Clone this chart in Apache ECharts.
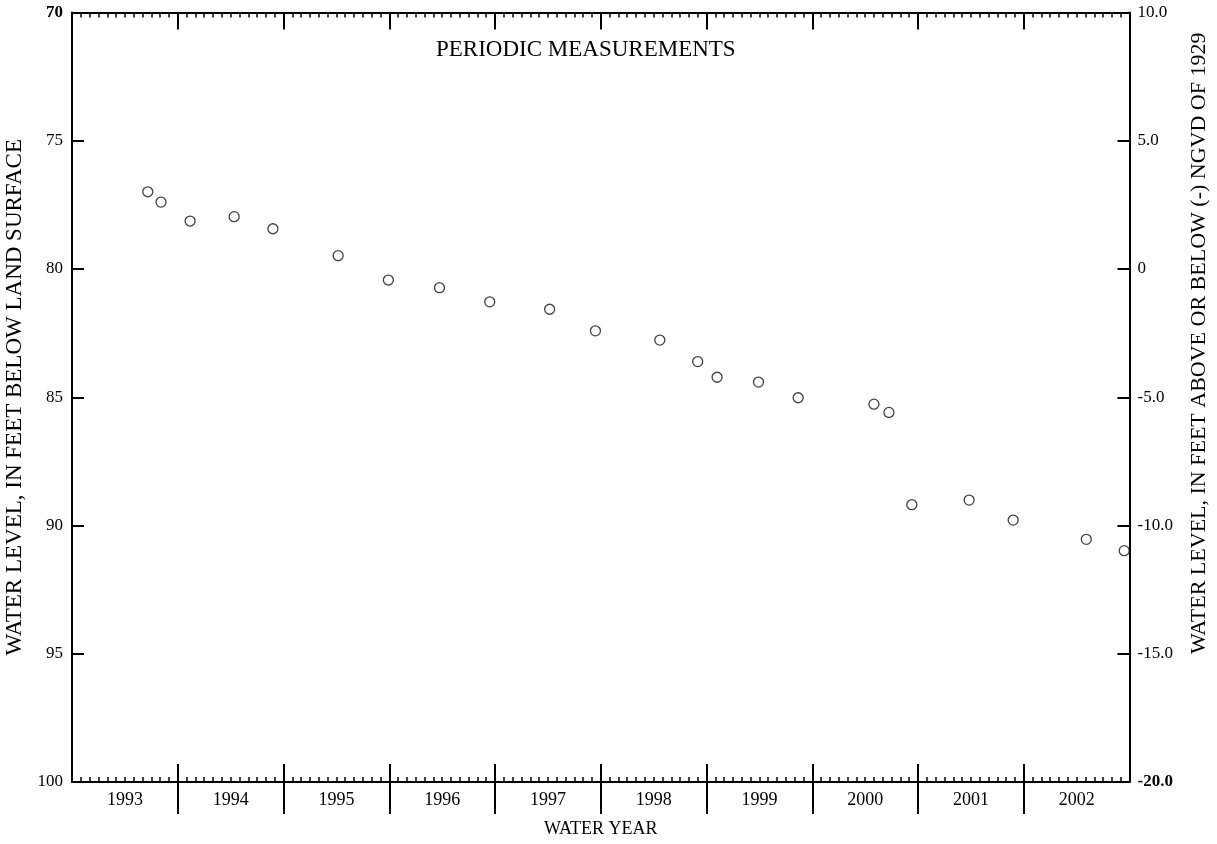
<!DOCTYPE html>
<html>
<head>
<meta charset="utf-8">
<script src="https://cdn.jsdelivr.net/npm/echarts@6/dist/echarts.min.js"></script>
<style>
  html, body { margin: 0; padding: 0; background: #fff; }
  #chart { width: 1217px; height: 844px; }
</style>
</head>
<body>
<div id="chart"></div>
<script>
// months since start of water year 1993 (Oct 1992)
const measMonth = [8.6, 10.1, 13.4, 18.4, 22.8, 30.2, 35.9, 41.7, 47.4, 54.2, 59.4, 66.7,
    71.0, 73.2, 77.9, 82.4, 91.0, 92.7, 95.3, 101.8, 106.8, 115.1, 119.4];
// water level, feet below land surface
const waterLevel = [76.99, 77.39, 78.13, 77.96, 78.43, 79.48, 80.43, 80.73, 81.28, 81.57, 82.41, 82.77,
    83.61, 84.22, 84.41, 85.02, 85.27, 85.59, 89.19, 89.01, 89.79, 90.54, 90.98];
const waterYears = ['1993', '1994', '1995', '1996', '1997', '1998', '1999', '2000', '2001', '2002'];
const yearEdges = [12, 24, 36, 48, 60, 72, 84, 96, 108];
const yearMids = [6, 18, 30, 42, 54, 66, 78, 90, 102, 114];

const font = '"Liberation Serif", "Times New Roman", serif';
const black = '#000';

const chart = echarts.init(document.getElementById('chart'));

const lineStyle = { color: black, width: 2 };

chart.setOption({
    backgroundColor: '#fff',
    animation: false,
    textStyle: { fontFamily: font, color: black },
    grid: {
        left: 72, right: 87.5, top: 12.5, bottom: 62,
        containLabel: false,
        outerBoundsMode: 'none',
    },
    graphic: [
        {
            type: 'text',
            left: 436,
            top: 38,
            style: { text: 'PERIODIC MEASUREMENTS', font: '23px ' + font, fill: black },
        },
    ],
    xAxis: [
        {
            // bottom line with month ticks
            type: 'value', position: 'bottom', min: 0, max: 120, interval: 12,
            axisLine: { show: true, onZero: false, lineStyle },
            axisTick: { show: true, inside: true, length: 18, lineStyle },
            minorTick: { show: true, splitNumber: 12, length: 5, lineStyle: { color: black, width: 1.5 } },
            axisLabel: { show: false },
            splitLine: { show: false },
            name: 'WATER YEAR',
            nameLocation: 'middle',
            nameGap: 38,
            nameTextStyle: { fontSize: 18, color: black, fontFamily: font },
        },
        {
            // year separators below the axis + year labels
            type: 'value', position: 'bottom', min: 0, max: 120, interval: 12,
            axisLine: { show: false, onZero: false },
            axisTick: { show: true, inside: false, length: 32, customValues: yearEdges, lineStyle },
            axisLabel: {
                show: true, customValues: yearMids, margin: 9,
                fontSize: 18, color: black, fontFamily: font,
                formatter: (v) => waterYears[Math.floor(v / 12)],
            },
            splitLine: { show: false },
        },
        {
            type: 'value', position: 'top', min: 0, max: 120, interval: 12,
            axisLine: { show: true, onZero: false, lineStyle },
            axisTick: { show: true, inside: true, length: 17, lineStyle },
            minorTick: { show: true, splitNumber: 12, length: 5, lineStyle: { color: black, width: 1.5 } },
            axisLabel: { show: false },
            splitLine: { show: false },
        },
    ],
    yAxis: [
        {
            type: 'value', position: 'left', inverse: true, min: 70, max: 100, interval: 5,
            axisLine: { show: true, onZero: false, lineStyle },
            axisTick: { show: true, inside: true, length: 12, lineStyle },
            splitLine: { show: false },
            axisLabel: {
                margin: 9, fontSize: 17, color: black, fontFamily: font,
                formatter: (v) => (v === 70 ? '{b|70}' : String(v)),
                rich: { b: { fontSize: 17, fontWeight: 'bold', fontFamily: font, color: black } },
            },
            name: 'WATER LEVEL, IN FEET BELOW LAND SURFACE',
            nameLocation: 'middle',
            nameRotate: 90,
            nameGap: 42,
            nameTextStyle: { fontSize: 23, color: black, fontFamily: font },
        },
        {
            type: 'value', position: 'right', min: -20, max: 10, interval: 5,
            axisLine: { show: true, onZero: false, lineStyle },
            axisTick: { show: true, inside: true, length: 12, lineStyle },
            splitLine: { show: false },
            axisLabel: {
                margin: 8, fontSize: 17, color: black, fontFamily: font,
                formatter: (v) => (v === 0 ? '0' : v === -20 ? '{b|-20.0}' : v.toFixed(1)),
                rich: { b: { fontSize: 17, fontWeight: 'bold', fontFamily: font, color: black } },
            },
            name: 'WATER LEVEL, IN FEET ABOVE OR BELOW (-) NGVD OF 1929',
            nameLocation: 'middle',
            nameRotate: 90,
            nameGap: 59,
            nameTextStyle: { fontSize: 22, color: black, fontFamily: font, padding: [0, 0, 0, 108] },
        },
    ],
    series: [
        {
            type: 'scatter',
            xAxisIndex: 0,
            yAxisIndex: 0,
            symbol: 'circle',
            symbolSize: 10,
            clip: false,
            itemStyle: { color: 'rgba(255,255,255,0)', borderColor: '#111', borderWidth: 1.3 },
            data: measMonth.map((m, i) => [m, waterLevel[i]]),
        },
    ],
});
</script>
</body>
</html>
